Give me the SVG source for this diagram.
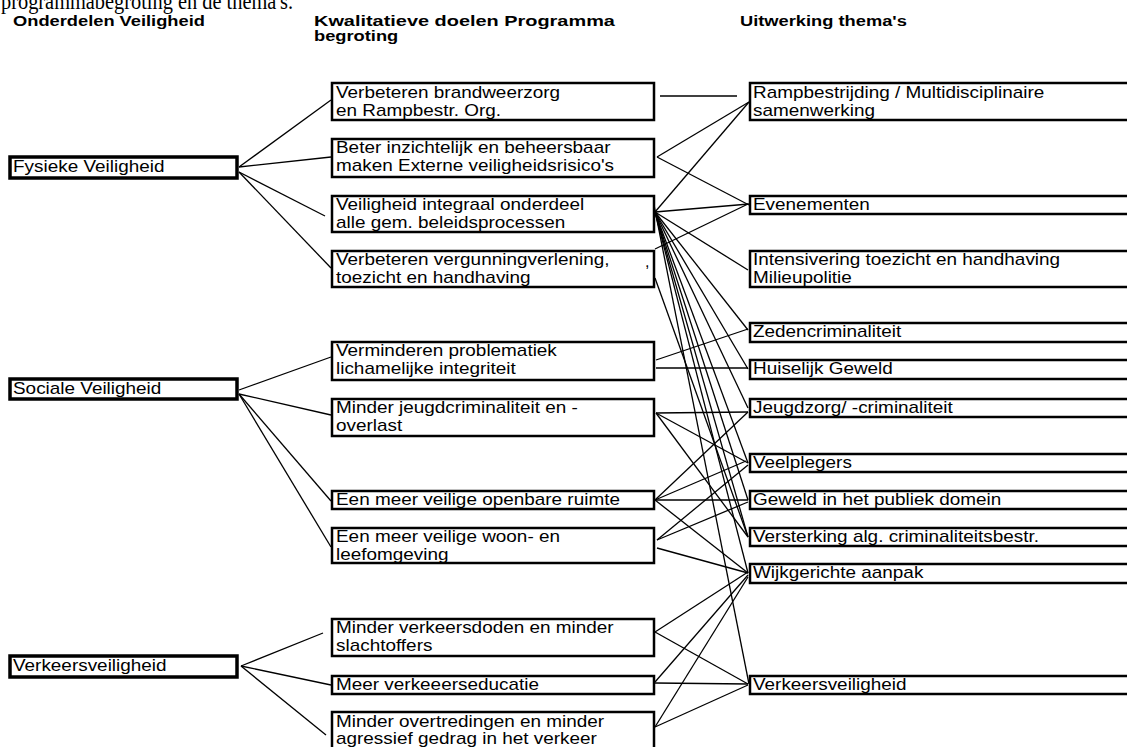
<svg xmlns="http://www.w3.org/2000/svg" width="1127" height="747" viewBox="0 0 1127 747">
<style>
.bg{fill:#fff}
.lb{fill:#fff;stroke:#000;stroke-width:3.5}
.mb{fill:#fff;stroke:#000;stroke-width:2.5}
.t{font-family:"Liberation Sans",Arial,sans-serif;font-size:16px;fill:#000}
.h{font-family:"Liberation Sans",Arial,sans-serif;font-size:15.5px;font-weight:bold;fill:#000}
.ttl{font-family:"Liberation Serif","Times New Roman",serif;font-size:24px;fill:#000}
#connectors line{stroke:#000;stroke-width:1.3}
</style>
<rect class="bg" x="0" y="0" width="1127" height="747"/>
<text class="ttl" x="1" y="8.5" textLength="292" lengthAdjust="spacingAndGlyphs">programmabegroting en de thema's.</text>
<g id="headers">
<text class="h" transform="translate(13,25.5) scale(1.18,1)">Onderdelen Veiligheid</text>
<text class="h" transform="translate(314,25.5) scale(1.18,1)" textLength="255" lengthAdjust="spacingAndGlyphs">Kwalitatieve doelen Programma</text>
<text class="h" transform="translate(314,41) scale(1.18,1)">begroting</text>
<text class="h" transform="translate(740,25.5) scale(1.18,1)">Uitwerking thema's</text>
</g>
<g id="connectors">
<line x1="239" y1="167" x2="331" y2="100"/>
<line x1="239" y1="167" x2="331" y2="157"/>
<line x1="239" y1="172" x2="325" y2="216"/>
<line x1="239" y1="172" x2="331" y2="268"/>
<line x1="239" y1="390" x2="331" y2="357"/>
<line x1="239" y1="394" x2="331" y2="415"/>
<line x1="239" y1="394" x2="331" y2="501"/>
<line x1="239" y1="394" x2="331" y2="547"/>
<line x1="241" y1="666" x2="323" y2="633"/>
<line x1="241" y1="666" x2="331" y2="685"/>
<line x1="241" y1="666" x2="326" y2="735"/>
<line x1="660" y1="96" x2="737" y2="96"/>
<line x1="657" y1="157" x2="749" y2="102"/>
<line x1="657" y1="157" x2="749" y2="205"/>
<line x1="655" y1="212" x2="749" y2="102"/>
<line x1="655" y1="212" x2="749" y2="204"/>
<line x1="655" y1="212" x2="748" y2="270"/>
<line x1="655" y1="249" x2="748" y2="204"/>
<line x1="655" y1="212" x2="748" y2="330"/>
<line x1="655" y1="212" x2="748" y2="369"/>
<line x1="655" y1="212" x2="748" y2="408"/>
<line x1="655" y1="212" x2="748" y2="463"/>
<line x1="655" y1="212" x2="748" y2="500"/>
<line x1="655" y1="212" x2="748" y2="537"/>
<line x1="655" y1="212" x2="748" y2="573"/>
<line x1="653" y1="200" x2="749" y2="684"/>
<line x1="655" y1="278" x2="748" y2="537"/>
<line x1="656" y1="360" x2="748" y2="329"/>
<line x1="656" y1="368" x2="748" y2="368"/>
<line x1="656" y1="413" x2="748" y2="412"/>
<line x1="656" y1="413" x2="748" y2="463"/>
<line x1="656" y1="413" x2="748" y2="537"/>
<line x1="655" y1="500" x2="748" y2="412"/>
<line x1="655" y1="500" x2="746" y2="461"/>
<line x1="655" y1="500" x2="748" y2="500"/>
<line x1="655" y1="500" x2="748" y2="573"/>
<line x1="657" y1="540" x2="748" y2="465"/>
<line x1="657" y1="540" x2="748" y2="502"/>
<line x1="657" y1="548" x2="748" y2="573"/>
<line x1="655" y1="632" x2="748" y2="572"/>
<line x1="655" y1="632" x2="748" y2="684"/>
<line x1="655" y1="682" x2="748" y2="575"/>
<line x1="655" y1="683" x2="748" y2="684"/>
<line x1="655" y1="727" x2="748" y2="577"/>
<line x1="655" y1="727" x2="748" y2="685"/>
</g>
<g id="n-fysieke"><rect class="lb" x="10" y="157" width="227" height="21"/><text class="t" transform="translate(13,172) scale(1.183,1)">Fysieke Veiligheid</text></g>
<g id="n-sociale"><rect class="lb" x="10" y="379" width="227" height="20"/><text class="t" transform="translate(13,394) scale(1.183,1)">Sociale Veiligheid</text></g>
<g id="n-verkeer"><rect class="lb" x="10" y="656" width="227" height="21"/><text class="t" transform="translate(13,671) scale(1.183,1)">Verkeersveiligheid</text></g>

<g id="m1"><rect class="mb" x="332" y="83" width="322" height="37"/><text class="t" transform="translate(336,97.5) scale(1.183,1)">Verbeteren brandweerzorg</text><text class="t" transform="translate(336,115.5) scale(1.183,1)">en Rampbestr. Org.</text></g>
<g id="m2"><rect class="mb" x="332" y="139" width="322" height="38"/><text class="t" transform="translate(336,153) scale(1.183,1)">Beter inzichtelijk en beheersbaar</text><text class="t" transform="translate(336,171) scale(1.183,1)">maken Externe veiligheidsrisico's</text></g>
<g id="m3"><rect class="mb" x="332" y="196" width="322" height="36"/><text class="t" transform="translate(336,209.5) scale(1.183,1)">Veiligheid integraal onderdeel</text><text class="t" transform="translate(336,227.5) scale(1.183,1)">alle gem. beleidsprocessen</text></g>
<g id="m4"><rect class="mb" x="332" y="251" width="322" height="36"/><text class="t" transform="translate(336,265) scale(1.183,1)">Verbeteren vergunningverlening,</text><text class="t" transform="translate(336,283) scale(1.183,1)">toezicht en handhaving</text><text class="t" x="645" y="267" font-size="11">,</text></g>
<g id="m5"><rect class="mb" x="332" y="342" width="322" height="38"/><text class="t" transform="translate(336,356) scale(1.183,1)">Verminderen problematiek</text><text class="t" transform="translate(336,374) scale(1.183,1)">lichamelijke integriteit</text></g>
<g id="m6"><rect class="mb" x="332" y="399" width="322" height="37"/><text class="t" transform="translate(336,413) scale(1.183,1)">Minder jeugdcriminaliteit en -</text><text class="t" transform="translate(336,431) scale(1.183,1)">overlast</text></g>
<g id="m7"><rect class="mb" x="332" y="491" width="322" height="18"/><text class="t" transform="translate(336,504.5) scale(1.183,1)">Een meer veilige openbare ruimte</text></g>
<g id="m8"><rect class="mb" x="332" y="528" width="322" height="35"/><text class="t" transform="translate(336,542) scale(1.183,1)">Een meer veilige woon- en</text><text class="t" transform="translate(336,560) scale(1.183,1)">leefomgeving</text></g>
<g id="m9"><rect class="mb" x="332" y="619" width="322" height="37"/><text class="t" transform="translate(336,633) scale(1.183,1)">Minder verkeersdoden en minder</text><text class="t" transform="translate(336,651) scale(1.183,1)">slachtoffers</text></g>
<g id="m10"><rect class="mb" x="332" y="676" width="322" height="18"/><text class="t" transform="translate(336,689.5) scale(1.183,1)">Meer verkeeerseducatie</text></g>
<g id="m11"><rect class="mb" x="332" y="712" width="322" height="40"/><text class="t" transform="translate(336,726.5) scale(1.183,1)">Minder overtredingen en minder</text><text class="t" transform="translate(336,744) scale(1.183,1)">agressief gedrag in het verkeer</text></g>

<g id="r1"><rect class="mb" x="750" y="83" width="400" height="37"/><text class="t" transform="translate(753,97.5) scale(1.183,1)">Rampbestrijding / Multidisciplinaire</text><text class="t" transform="translate(753,115.5) scale(1.183,1)">samenwerking</text></g>
<g id="r2"><rect class="mb" x="750" y="196" width="400" height="18"/><text class="t" transform="translate(753,209.5) scale(1.183,1)">Evenementen</text></g>
<g id="r3"><rect class="mb" x="750" y="251" width="400" height="36"/><text class="t" transform="translate(753,265) scale(1.183,1)">Intensivering toezicht en handhaving</text><text class="t" transform="translate(753,283) scale(1.183,1)">Milieupolitie</text></g>
<g id="r4"><rect class="mb" x="750" y="323" width="400" height="19"/><text class="t" transform="translate(753,337) scale(1.183,1)">Zedencriminaliteit</text></g>
<g id="r5"><rect class="mb" x="750" y="360" width="400" height="19"/><text class="t" transform="translate(753,374) scale(1.183,1)">Huiselijk Geweld</text></g>
<g id="r6"><rect class="mb" x="750" y="399" width="400" height="18"/><text class="t" transform="translate(753,412.5) scale(1.183,1)">Jeugdzorg/ -criminaliteit</text></g>
<g id="r7"><rect class="mb" x="750" y="454" width="400" height="18"/><text class="t" transform="translate(753,467.5) scale(1.183,1)">Veelplegers</text></g>
<g id="r8"><rect class="mb" x="750" y="491" width="400" height="18"/><text class="t" transform="translate(753,504.5) scale(1.183,1)">Geweld in het publiek domein</text></g>
<g id="r9"><rect class="mb" x="750" y="528" width="400" height="18"/><text class="t" transform="translate(753,541.5) scale(1.183,1)">Versterking alg. criminaliteitsbestr.</text></g>
<g id="r10"><rect class="mb" x="750" y="564" width="400" height="19"/><text class="t" transform="translate(753,578) scale(1.183,1)">Wijkgerichte aanpak</text></g>
<g id="r11"><rect class="mb" x="750" y="676" width="400" height="18"/><text class="t" transform="translate(753,689.5) scale(1.183,1)">Verkeersveiligheid</text></g>
</svg>
